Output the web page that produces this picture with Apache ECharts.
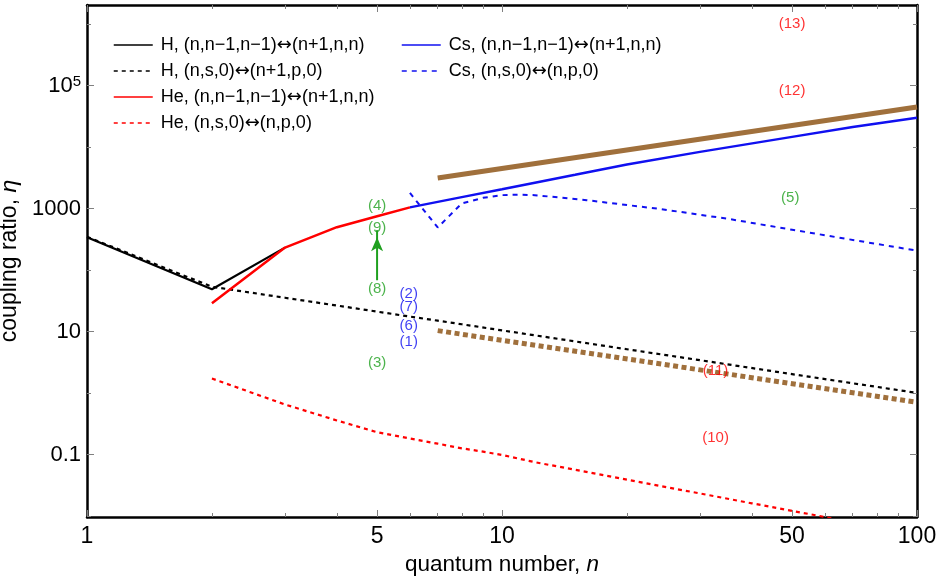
<!DOCTYPE html>
<html><head><meta charset="utf-8">
<script src="https://cdn.jsdelivr.net/npm/echarts@6/dist/echarts.min.js"></script>
<style>html,body{margin:0;padding:0;background:#fff}#c{width:943px;height:579px}</style>
</head><body><div id="c"></div>
<script>
// ---- axis ranges and ticks ----
const xRange = [1, 100];
const yRange = [0.0097, 2.05e6];
const xMajorTicks = [1, 5, 10, 50, 100];
const xMajorLabels = ['1', '5', '10', '50', '100'];
const xMinorTicks = [2, 3, 4, 6, 7, 8, 9, 20, 30, 40, 60, 70, 80, 90];
const yMajorTicks = [0.1, 10, 1000, 100000];
const yMajorLabels = ['0.1', '10', '1000', '10^5'];
const yMinorTicks = [0.01, 1, 100, 10000, 1000000];

// ---- series data (n, eta) ----
const hCircN = [1, 2, 3];
const hCircV = [344, 49, 233];
const hSpN = [1, 2, 3, 4, 5, 6, 7, 8, 10, 15, 20, 30, 50, 70, 100];
const hSpV = [350, 53.7, 35.6, 26.6, 21.2, 17.6, 15.1, 13.2, 10.5, 6.95, 5.18, 3.44, 2.04, 1.45, 1.01];
const heCircN = [2, 3, 4, 5, 6];
const heCircV = [29, 233, 500, 755, 1050];
const heSpN = [2, 3, 4, 5, 6, 7, 8, 9, 10, 12, 15, 20, 30, 40, 50, 60, 70];
const heSpV = [1.73, 0.655, 0.36, 0.232, 0.183, 0.151, 0.127, 0.112, 0.099, 0.0756, 0.0568, 0.0393, 0.0234, 0.0162, 0.0122, 0.0097, 0.0079];
const csCircN = [6, 7, 8, 10, 12, 15, 20, 30, 50, 70, 100];
const csCircV = [1050, 1290, 1540, 2070, 2640, 3550, 5210, 8390, 14700, 21300, 30100];
const csSpN = [6, 7, 8, 9, 10, 11, 12, 16, 24, 35, 50, 75, 100];
const csSpV = [1800, 495, 1216, 1500, 1660, 1690, 1660, 1374, 990, 685, 455, 287, 208];
const brownSolidN = [7, 100];
const brownSolidV = [3150, 45000];
const brownDotN = [7, 100];
const brownDotV = [10.4, 0.71];
const arrowN = [5, 5];
const arrowV = [68.6, 447];

// ---- annotation labels ----
const greenLabels = ['(4)', '(9)', '(8)', '(3)', '(5)'];
const greenN = [5, 5, 5, 5, 49.5];
const greenV = [1110, 494, 48.9, 3.13, 1480];
const blueLabels = ['(2)', '(7)', '(6)', '(1)'];
const blueN = [5.96, 5.96, 5.96, 5.96];
const blueV = [40.5, 25.2, 12.5, 6.95];
const redLabels = ['(13)', '(12)', '(11)', '(10)'];
const redN = [50, 50, 32.7, 32.7];
const redV = [1.0e6, 8.2e4, 2.34, 0.19];

const names = {
  hCirc: 'H, (n,n\u22121,n\u22121)\u2194(n+1,n,n)',
  hSp: 'H, (n,s,0)\u2194(n+1,p,0)',
  heCirc: 'He, (n,n\u22121,n\u22121)\u2194(n+1,n,n)',
  heSp: 'He, (n,s,0)\u2194(n,p,0)',
  csCirc: 'Cs, (n,n\u22121,n\u22121)\u2194(n+1,n,n)',
  csSp: 'Cs, (n,s,0)\u2194(n,p,0)'
};

const FONT = "'Liberation Sans', Arial, sans-serif";
const L = Math.log10;
const zip = (a, b) => a.map((v, i) => [v, b[i]]);
const BLACK = '#000000', RED = '#ff0000', BLUE = '#1010f0', BROWN = '#a0703c', GREEN = '#1fa01f';

function labelFmt(values, labels) {
  return function (v) {
    for (let i = 0; i < values.length; i++) {
      if (Math.abs(L(values[i]) - v) < 1e-6) {
        const s = labels[i];
        if (s.indexOf('^') >= 0) { const p = s.split('^'); return '{b|' + p[0] + '}{s|' + p[1] + '}'; }
        return s;
      }
    }
    return '';
  };
}

const tickStyle = { color: '#808080', width: 1 };
const frameLine = { show: true, onZero: false, lineStyle: { color: '#000', width: 2.5 } };

function decoAxis(pos, range, ticks, len, opts) {
  return Object.assign({
    type: 'value', position: pos, min: L(range[0]), max: L(range[1]),
    axisLine: { show: false, onZero: false },
    axisTick: { show: true, inside: true, length: len, customValues: ticks.map(L), lineStyle: tickStyle },
    axisLabel: { show: false },
    splitLine: { show: false }, silent: true
  }, opts || {});
}

const xAxes = [
  { type: 'log', logBase: 10, min: xRange[0], max: xRange[1], show: false },
  decoAxis('bottom', xRange, xMajorTicks, 7, {
    axisLine: frameLine,
    axisLabel: { show: true, customValues: xMajorTicks.map(L), formatter: labelFmt(xMajorTicks, xMajorLabels),
      fontSize: 23, color: '#000', fontFamily: FONT, margin: 8 },
    name: 'quantum number, {i|n}', nameLocation: 'middle', nameGap: 35,
    nameTextStyle: { fontSize: 22.5, color: '#000', fontFamily: FONT,
      rich: { i: { fontSize: 22.5, fontStyle: 'italic', color: '#000', fontFamily: FONT } } }
  }),
  decoAxis('bottom', xRange, xMinorTicks, 4),
  decoAxis('top', xRange, xMajorTicks, 7, { axisLine: frameLine }),
  decoAxis('top', xRange, xMinorTicks, 4)
];

const yAxes = [
  { type: 'log', logBase: 10, min: yRange[0], max: yRange[1], show: false },
  decoAxis('left', yRange, yMajorTicks, 7, {
    axisLine: frameLine,
    axisLabel: { show: true, customValues: yMajorTicks.map(L), formatter: labelFmt(yMajorTicks, yMajorLabels),
      fontSize: 22, color: '#000', fontFamily: FONT, margin: 6,
      rich: { b: { fontSize: 22, color: '#000', fontFamily: FONT },
              s: { fontSize: 15, color: '#000', fontFamily: FONT, verticalAlign: 'top', padding: [0, 0, 8, 0] } } },
    name: 'coupling ratio, {i|\u03b7}', nameLocation: 'middle', nameGap: 47,
    nameTextStyle: { fontSize: 23, color: '#000', fontFamily: FONT,
      rich: { i: { fontSize: 23, fontStyle: 'italic', color: '#000', fontFamily: FONT } } }
  }),
  decoAxis('left', yRange, yMinorTicks, 4),
  decoAxis('right', yRange, yMajorTicks, 7, { axisLine: frameLine }),
  decoAxis('right', yRange, yMinorTicks, 4)
];

function lineSeries(name, n, v, color, width, type, z) {
  return {
    name: name, type: 'line', xAxisIndex: 0, yAxisIndex: 0, data: zip(n, v),
    symbol: 'none', silent: true, z: z || 2,
    lineStyle: { color: color, width: width, type: type || 'solid', cap: 'butt' },
    itemStyle: { color: color }
  };
}

function labelSeries(texts, n, v, color) {
  return {
    type: 'scatter', xAxisIndex: 0, yAxisIndex: 0, silent: true, z: 5,
    symbolSize: 1, itemStyle: { color: 'rgba(0,0,0,0)' },
    data: texts.map((t, i) => ({ name: t, value: [n[i], v[i]] })),
    label: { show: true, position: 'inside', formatter: '{b}', color: color, fontSize: 15, fontFamily: FONT }
  };
}

const series = [
  lineSeries(names.hCirc, hCircN, hCircV, BLACK, 2.2),
  lineSeries(names.hSp, hSpN, hSpV, BLACK, 2.2, [4, 4]),
  lineSeries(names.heCirc, heCircN, heCircV, RED, 2.5, 'solid', 3),
  lineSeries(names.heSp, heSpN, heSpV, RED, 2.2, [4, 4]),
  lineSeries(names.csCirc, csCircN, csCircV, BLUE, 2.5),
  lineSeries(names.csSp, csSpN, csSpV, BLUE, 2, [5, 5], 3),
  lineSeries('brownSolid', brownSolidN, brownSolidV, BROWN, 5),
  lineSeries('brownDot', brownDotN, brownDotV, BROWN, 5, [5, 3.5]),
  {
    type: 'line', xAxisIndex: 0, yAxisIndex: 0, silent: true, showSymbol: true, z: 4,
    lineStyle: { color: GREEN, width: 2 }, itemStyle: { color: GREEN },
    data: [
      { value: [arrowN[0], arrowV[0]], symbol: 'none' },
      { value: [arrowN[1], arrowV[1]], symbol: 'arrow', symbolSize: [9, 14], symbolOffset: [0, '50%'] }
    ]
  },
  labelSeries(greenLabels, greenN, greenV, GREEN),
  labelSeries(blueLabels, blueN, blueV, BLUE),
  labelSeries(redLabels, redN, redV, RED)
];

const legendCommon = {
  orient: 'vertical', itemWidth: 39, itemHeight: 14, itemGap: 8, padding: 0,
  selectedMode: false, lineStyle: { width: 1.5 },
  itemStyle: { opacity: 0, color: 'rgba(0,0,0,0)', borderWidth: 0 },
  formatter: name => name.replace('\u2194', '{a|\u2194}'),
  textStyle: { fontSize: 18, color: '#000', fontFamily: FONT, lineHeight: 18, padding: [0, 0, 0, 3],
    rich: { a: { fontSize: 18, fontFamily: "'DejaVu Sans', sans-serif", color: '#000', lineHeight: 18 } } }
};

const option = {
  animation: false,
  backgroundColor: '#ffffff',
  grid: { left: 87, right: 26, top: 5, bottom: 62, containLabel: false, outerBoundsMode: 'none' },
  legend: [
    Object.assign({}, legendCommon, { left: 113, top: 36, data: [names.hCirc, names.hSp, names.heCirc, names.heSp] }),
    Object.assign({}, legendCommon, { left: 401, top: 36, data: [names.csCirc, names.csSp] })
  ],
  xAxis: xAxes,
  yAxis: yAxes,
  series: series
};

const chart = echarts.init(document.getElementById('c'), null, { renderer: 'canvas' });
chart.setOption(option);
</script>
</body></html>
